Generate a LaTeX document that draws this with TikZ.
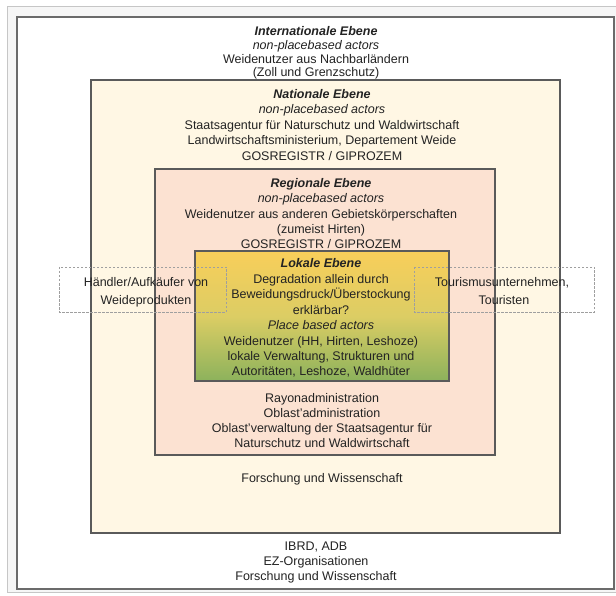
\documentclass[tikz,border=0pt]{standalone}
\usepackage{fontspec}
\setmainfont{Liberation Sans}
\definecolor{natfill}{RGB}{255,247,228}
\definecolor{regfill}{RGB}{252,226,210}
\definecolor{boxline}{RGB}{90,90,90}
\definecolor{txtcol}{RGB}{35,35,35}
\definecolor{lokTop}{RGB}{248,206,90}
\definecolor{lokMid}{RGB}{220,205,100}
\definecolor{lokBot}{RGB}{140,178,92}
\tikzset{
  levelbox/.style={draw=boxline, line width=1.4pt},
  dashbox/.style={draw=gray!75, line width=0.8pt, dash pattern=on 2.5pt off 1.5pt},
  txt/.style={anchor=base, inner sep=0pt, text=txtcol, font=\fontsize{12.5}{15}\selectfont},
  ttl/.style={txt, font=\fontsize{12.5}{15}\selectfont\bfseries\itshape},
  itl/.style={txt, font=\fontsize{12.5}{15}\selectfont\itshape},
}
\begin{document}
\begin{tikzpicture}[x=1pt,y=-1pt]
\useasboundingbox (0,0) rectangle (616,596);
\fill[white] (0,0) rectangle (616,596);
% outer frame
\fill[gray!7] (7,7) rectangle (622,592);
\draw[gray!45, line width=1pt] (7,7) rectangle (622,592);
\fill[white] (17,17) rectangle (614,589);
\draw[gray!110!black!60, draw=black!58, line width=1.4pt] (17,17) rectangle (614,589);
% level boxes
\fill[natfill] (91,80) rectangle (560,533);
\draw[levelbox] (91,80) rectangle (560,533);
\fill[regfill] (155,169) rectangle (495,455);
\draw[levelbox] (155,169) rectangle (495,455);
\shade[top color=lokTop, bottom color=lokBot, middle color=lokMid] (195,251) rectangle (449,381);
\draw[levelbox] (195,251) rectangle (449,381);
% dashed boxes
\draw[dashbox] (59,267) rectangle (226,312);
\draw[dashbox] (414,267) rectangle (594,312);
% international
\node[ttl] (i1) at (316,35.5) {Internationale Ebene};
\node[itl] (i2) at (316,49.5) {non-placebased actors};
\node[txt] (i3) at (316,63.5) {Weidenutzer aus Nachbarländern};
\node[txt] (i4) at (316,77) {(Zoll und Grenzschutz)};
% national
\node[ttl] (n1) at (322,98.5) {Nationale Ebene};
\node[itl] (n2) at (322,113.5) {non-placebased actors};
\node[txt] (n3) at (322,129.5) {Staatsagentur für Naturschutz und Waldwirtschaft};
\node[txt] (n4) at (322,145) {Landwirtschaftsministerium, Departement Weide};
\node[txt] (n5) at (322,160.5) {GOSREGISTR / GIPROZEM};
% regional
\node[ttl] (r1) at (321,188) {Regionale Ebene};
\node[itl] (r2) at (321,203) {non-placebased actors};
\node[txt] (r3) at (321,218.5) {Weidenutzer aus anderen Gebietskörperschaften};
\node[txt] (r4) at (321,233.5) {(zumeist Hirten)};
\node[txt] (r5) at (321,248.5) {GOSREGISTR / GIPROZEM};
% local
\node[ttl] (l1) at (321,268) {Lokale Ebene};
\node[txt] (l2) at (321,283.4) {Degradation allein durch};
\node[txt] (l3) at (321,298.8) {Beweidungsdruck/Überstockung};
\node[txt] (l4) at (321,314.2) {erklärbar?};
\node[itl] (l5) at (321,329.6) {Place based actors};
\node[txt] (l6) at (321,345) {Weidenutzer (HH, Hirten, Leshoze)};
\node[txt] (l7) at (321,360.4) {lokale Verwaltung, Strukturen und};
\node[txt] (l8) at (321,375.8) {Autoritäten, Leshoze, Waldhüter};
% regional lower
\node[txt] (r6) at (322,402) {Rayonadministration};
\node[txt] (r7) at (322,417.5) {Oblast'administration};
\node[txt] (r8) at (322,432.5) {Oblast'verwaltung der Staatsagentur für};
\node[txt] (r9) at (322,447.5) {Naturschutz und Waldwirtschaft};
% national lower
\node[txt] (n6) at (322,482) {Forschung und Wissenschaft};
% international lower
\node[txt] (i5) at (316,550) {IBRD, ADB};
\node[txt] (i6) at (316,565.5) {EZ-Organisationen};
\node[txt] (i7) at (316,580.5) {Forschung und Wissenschaft};
% side boxes
\node[txt] (h1) at (146,287) {Händler/Aufkäufer von};
\node[txt] (h2) at (146,304.5) {Weideprodukten};
\node[txt] (t1) at (502,287) {Tourismusunternehmen,};
\node[txt] (t2) at (504,304.5) {Touristen};
\end{tikzpicture}
\end{document}
